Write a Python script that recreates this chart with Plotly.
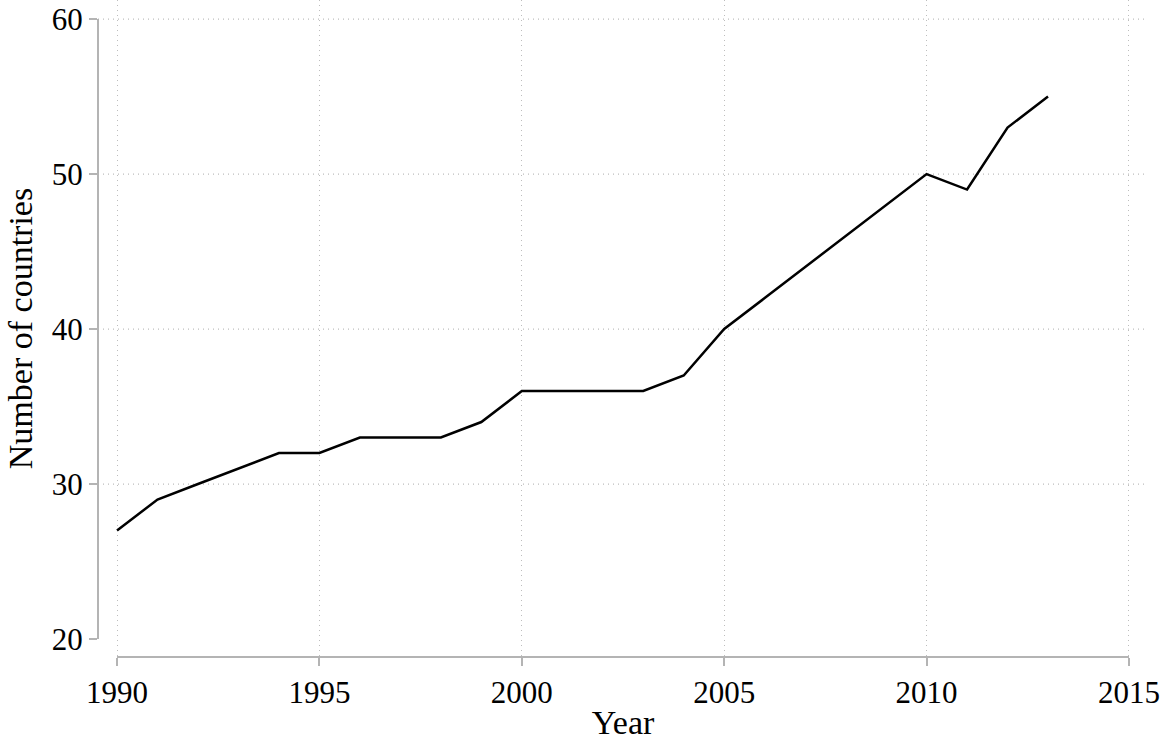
import plotly.graph_objects as go

years = list(range(1990, 2014))
countries = [27, 29, 30, 31, 32, 32, 33, 33, 33, 34, 36, 36, 36, 36, 37, 40,
             42, 44, 46, 48, 50, 49, 53, 55]
x_ticks = [1990, 1995, 2000, 2005, 2010, 2015]
y_ticks = [20, 30, 40, 50, 60]
y_grid = [30, 40, 50, 60]

FONT = "Liberation Serif"
AX = "#b4b4b4"
GRID = "#bdbdbd"

fig = go.Figure()
fig.add_trace(go.Scatter(x=years, y=countries, mode="lines",
                         line=dict(color="black", width=2.5), showlegend=False))

shapes = []
for g in y_grid:
    shapes.append(dict(type="line", xref="paper", yref="y", x0=0, x1=1, y0=g, y1=g,
                       line=dict(color=GRID, width=1.3, dash="1px,4px"), layer="below"))
shapes.append(dict(type="line", xref="paper", yref="y", x0=0, x1=0,
                   y0=y_ticks[0], y1=y_ticks[-1], line=dict(color=AX, width=2)))
shapes.append(dict(type="line", xref="x", yref="paper", y0=0, y1=0,
                   x0=x_ticks[0], x1=x_ticks[-1], line=dict(color=AX, width=2)))

fig.update_layout(
    width=1160, height=741,
    margin=dict(l=98, r=10, t=0, b=84),
    plot_bgcolor="white", paper_bgcolor="white",
    font=dict(family=FONT, size=28, color="black"),
    shapes=shapes,
    xaxis=dict(range=[1989.53, 2015.47], tickvals=x_ticks, ticks="outside",
               ticklen=8, tickwidth=2, tickcolor=AX, showline=False, zeroline=False,
               showgrid=True, gridcolor=GRID, griddash="1px,4px", gridwidth=1.3,
               ticklabeloverflow="allow",
               title=dict(text="Year", standoff=2), tickfont=dict(size=31)),
    yaxis=dict(range=[18.84, 61.23], tickvals=y_ticks, ticks="outside",
               ticklen=8, tickwidth=2, tickcolor=AX, showline=False, zeroline=False,
               showgrid=False, ticklabeloverflow="allow",
               title=dict(text="Number of countries", standoff=8),
               tickfont=dict(size=31)),
)
fig.write_html("out.html", config={"displayModeBar": False},
               post_script="document.body.style.margin='0';")
